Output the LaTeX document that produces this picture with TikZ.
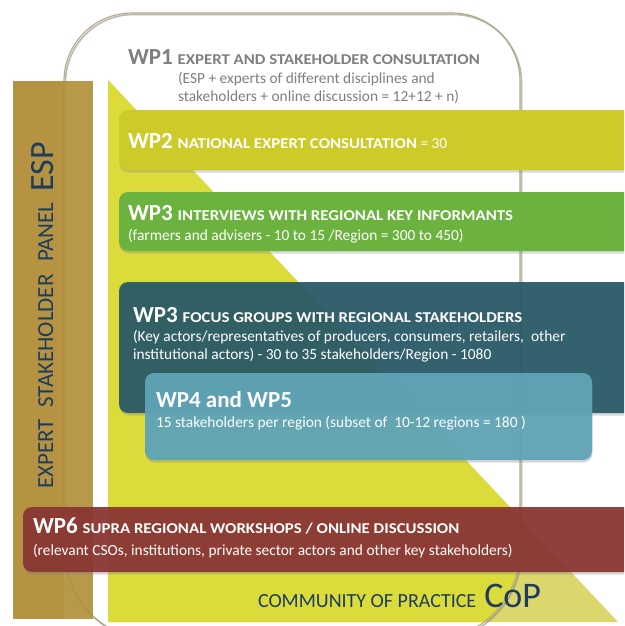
\documentclass[tikz,border=0pt]{standalone}
\usepackage{fontspec}
\setmainfont{Carlito}
\newfontfamily\capsfam[FakeStretch=1.12]{Carlito}
\usetikzlibrary{shadows}
\definecolor{yel}{HTML}{DCDB3C}
\definecolor{yelpale}{HTML}{DCD76C}
\definecolor{barc}{HTML}{B08B34}
\definecolor{wptwo}{HTML}{CDCB2A}
\definecolor{wpthree}{HTML}{6CB23F}
\definecolor{focusc}{HTML}{285866}
\definecolor{wpfour}{HTML}{5FA4B6}
\definecolor{wpsix}{HTML}{8B3432}
\definecolor{navy}{HTML}{1D3C5E}
\definecolor{grayt}{HTML}{7F7F7F}
\definecolor{olc}{HTML}{B3A87E}
\newcommand\wplab[1]{{\fontsize{23}{26}\selectfont\bfseries #1}}
\newcommand\wpcaps[1]{{\capsfam\bfseries\fontsize{15}{18}\selectfont #1}}
\newcommand\bodysize{\fontsize{15.4}{18}\selectfont}
\begin{document}
\begin{tikzpicture}[x=1pt,y=-1pt,
  txt/.style={anchor=base west, inner sep=0pt, outer sep=0pt, font=\bodysize},
  boxs/.style={rounded corners=9, drop shadow={shadow xshift=0.5pt, shadow yshift=-2.5pt, opacity=0.3}},
  olp/.style={insert path={(64,81) arc[start angle=180, end angle=270, radius=68]
     -- (452,13) arc[start angle=270, end angle=360, radius=68]
     -- (520,550) arc[start angle=0, end angle=90, radius=90]
     -- (154,640) arc[start angle=90, end angle=180, radius=90] -- cycle}},
  barword/.style={anchor=base west, inner sep=0pt, rotate=90, text=navy, font=\fontsize{23}{26}\selectfont}
]
\useasboundingbox (0,0) rectangle (624,626);
\clip (0,0) rectangle (624,626);
\fill[white] (0,0) rectangle (624,626);
% yellow triangle
\fill[yelpale] (108,80) -- (618,622) -- (108,622) -- cycle;
\begin{scope}
  \clip[olp];
  \fill[yel] (108,80) -- (618,622) -- (108,622) -- cycle;
\end{scope}
% outline with shadow
\draw[black!55, opacity=0.5, line width=1.6pt, shift={(1.5,1.5)}, olp];
\draw[olc, line width=1.1pt, olp];
% ESP bar
\fill[barc, fill opacity=0.93] (13,81) rectangle (93,619);
\fill[white, opacity=0.05] (64,81) rectangle (93,619);
\node[barword] (bexp) at (53,489) {EXPERT};
\node[barword] (bsta) at (53,408) {STAKEHOLDER};
\node[barword] (bpan) at (53,262) {PANEL};
\node[barword, font=\fontsize{34}{38}\selectfont] (besp) at (53,192) {ESP};
% WP1 text
\node[txt, text=grayt] (wp1h) at (128,64) {\wplab{WP1}\hspace{5pt}\wpcaps{EXPERT AND STAKEHOLDER CONSULTATION}};
\node[txt, text=grayt] (wp1a) at (178,83) {(ESP + experts of different disciplines and};
\node[txt, text=grayt] (wp1b) at (178,101) {stakeholders + online discussion = 12+12 + n)};
% boxes
\fill[wptwo, boxs] (119,110) rectangle (640,170);
\fill[wpthree, boxs] (119,192) rectangle (640,251);
\fill[focusc, fill opacity=0.93, boxs] (119,282) rectangle (640,413);
\fill[wpfour, fill opacity=0.95, boxs] (145,373) rectangle (592,460);
\fill[wpsix, fill opacity=0.93, boxs] (23,507) rectangle (640,572);
% box texts
\node[txt, text=white] (wp2h) at (128,148) {\wplab{WP2}\hspace{5pt}\wpcaps{NATIONAL EXPERT CONSULTATION} = 30};
\node[txt, text=white] (wp3h) at (128,220) {\wplab{WP3}\hspace{5pt}\wpcaps{INTERVIEWS WITH REGIONAL KEY INFORMANTS}};
\node[txt, text=white] (wp3b) at (128,240) {(farmers and advisers - 10 to 15 /Region = 300 to 450)};
\node[txt, text=white] (fgh) at (133,322) {\wplab{WP3}\hspace{5pt}\wpcaps{FOCUS GROUPS WITH REGIONAL STAKEHOLDERS}};
\node[txt, text=white] (fga) at (133,341) {(Key actors/representatives of producers, consumers, retailers,\ \ other};
\node[txt, text=white] (fgb) at (133,359) {institutional actors) - 30 to 35 stakeholders/Region - 1080};
\node[txt, text=white] (wp4h) at (156,407) {\wplab{WP4 and WP5}};
\node[txt, text=white] (wp4b) at (156,427) {15 stakeholders per region (subset of\ \ 10-12 regions = 180 )};
\node[txt, text=white] (wp6h) at (33,533) {\wplab{WP6}\hspace{5pt}\wpcaps{SUPRA REGIONAL WORKSHOPS / ONLINE DISCUSSION}};
\node[txt, text=white] (wp6b) at (33,555) {(relevant CSOs, institutions, private sector actors and other key stakeholders)};
% CoP
\node[txt, text=navy, font=\fontsize{20}{24}\selectfont] (cop) at (258,607) {COMMUNITY OF PRACTICE\hspace{8pt}{\fontsize{36}{40}\selectfont CoP}};
\end{tikzpicture}
\end{document}
